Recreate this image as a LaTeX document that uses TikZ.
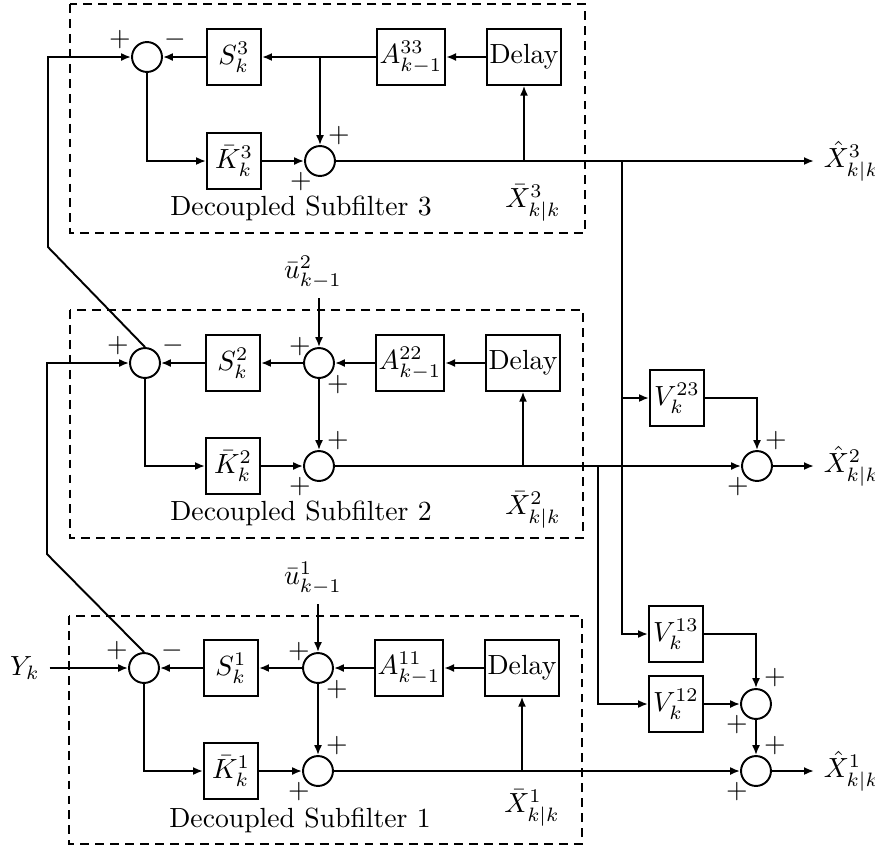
\documentclass[tikz,border=0pt]{standalone}
\usetikzlibrary{arrows.meta}
\tikzset{
  blk/.style={draw, line width=0.7pt, minimum width=19.5pt, minimum height=20pt, inner sep=1pt},
  sumc/.style={draw, circle, line width=0.7pt, minimum size=10.8pt, inner sep=0pt},
  sig/.style={line width=0.7pt, -{Latex[length=3.6pt,width=2.9pt]}},
  wire/.style={line width=0.7pt},
  frame/.style={line width=0.7pt, dash pattern=on 3.2pt off 2.2pt},
  sgn/.style={inner sep=0pt}
}
\begin{document}
\begin{tikzpicture}[x=0.361pt,y=-0.361pt]
\useasboundingbox (0,0) rectangle (875,848);
% subfilter 3
\draw[frame] (70,4) rectangle (585,233);
\node[sumc] (l3) at (147,57) {};
\node[blk] (s3) at (234,57) {$S^3_k$};
\node[blk] (a3) at (411,57) {$A^{33}_{k-1}$};
\node[blk] (d3) at (524,57) {Delay};
\node[blk] (k3) at (234,161) {$\bar{K}^3_k$};
\node[sumc] (b3) at (320,161) {};
\node (xb3) at (533,203) {$\bar{X}^3_{k|k}$};
\node (n3) at (301,208) {Decoupled Subfilter 3};
\node[anchor=west] (x3) at (814,161) {$\hat{X}^3_{k|k}$};
\coordinate (t3) at (622,161);
\draw[sig] (d3) -- (a3);
\draw[sig] (a3) -- (s3);
\draw[sig] (s3) -- (l3);
\draw[sig] (b3 |- a3) -- (b3);
\draw[sig] (l3) |- (k3);
\draw[sig] (k3) -- (b3);
\draw[sig] (b3) -- (x3);
\draw[sig] (d3 |- b3) -- (d3);
\node[sgn] (l3a) at ([shift={(-27,-17)}]l3) {$+$};
\node[sgn] (l3b) at ([shift={(28,-17)}]l3) {$-$};
\node[sgn] (b3a) at ([shift={(19,-25)}]b3) {$+$};
\node[sgn] (b3b) at ([shift={(-19,21)}]b3) {$+$};
% subfilter 2
\draw[frame] (70,310) rectangle (583,538);
\node (u2) at (313,272) {$\bar{u}^2_{k-1}$};
\node[sumc] (l2) at (145,363) {};
\node[blk] (s2) at (233,363) {$S^2_k$};
\node[sumc] (m2) at (319,363) {};
\node[blk] (a2) at (410,363) {$A^{22}_{k-1}$};
\node[blk] (d2) at (523,363) {Delay};
\node[blk] (k2) at (233,466) {$\bar{K}^2_k$};
\node[sumc] (b2) at (319,466) {};
\node (xb2) at (533,510) {$\bar{X}^2_{k|k}$};
\node (n2) at (301,513) {Decoupled Subfilter 2};
\coordinate (t2) at (598,466);
\draw[sig] (u2.south -| m2) -- (m2);
\draw[sig] (d2) -- (a2);
\draw[sig] (a2) -- (m2);
\draw[sig] (m2) -- (s2);
\draw[sig] (s2) -- (l2);
\draw[sig] (m2) -- (b2);
\draw[sig] (l2) |- (k2);
\draw[sig] (k2) -- (b2);
\draw[sig] (d2 |- b2) -- (d2);
\draw[sig] (l2.north) -- ++(-97,-100) |- (l3);
\node[sgn] (l2a) at ([shift={(-27,-17)}]l2) {$+$};
\node[sgn] (l2b) at ([shift={(28,-17)}]l2) {$-$};
\node[sgn] (m2a) at ([shift={(-19,-16)}]m2) {$+$};
\node[sgn] (m2b) at ([shift={(19,22)}]m2) {$+$};
\node[sgn] (b2a) at ([shift={(19,-25)}]b2) {$+$};
\node[sgn] (b2b) at ([shift={(-19,21)}]b2) {$+$};
% subfilter 1
\draw[frame] (69,616) rectangle (582,844);
\node (u1) at (313,578) {$\bar{u}^1_{k-1}$};
\node (yk) at (25,668) {$Y_k$};
\node[sumc] (l1) at (144,668) {};
\node[blk] (s1) at (231,668) {$S^1_k$};
\node[sumc] (m1) at (318,668) {};
\node[blk] (a1) at (409,668) {$A^{11}_{k-1}$};
\node[blk] (d1) at (522,668) {Delay};
\node[blk] (k1) at (231,771) {$\bar{K}^1_k$};
\node[sumc] (b1) at (318,771) {};
\node (xb1) at (532,808) {$\bar{X}^1_{k|k}$};
\node (n1) at (300,820) {Decoupled Subfilter 1};
\draw[sig] (yk) -- (l1);
\draw[sig] (u1.south -| m1) -- (m1);
\draw[sig] (d1) -- (a1);
\draw[sig] (a1) -- (m1);
\draw[sig] (m1) -- (s1);
\draw[sig] (s1) -- (l1);
\draw[sig] (m1) -- (b1);
\draw[sig] (l1) |- (k1);
\draw[sig] (k1) -- (b1);
\draw[sig] (d1 |- b1) -- (d1);
\draw[sig] (l1.north) -- ++(-97,-98) |- (l2);
\node[sgn] (l1a) at ([shift={(-27,-17)}]l1) {$+$};
\node[sgn] (l1b) at ([shift={(28,-17)}]l1) {$-$};
\node[sgn] (m1a) at ([shift={(-19,-16)}]m1) {$+$};
\node[sgn] (m1b) at ([shift={(19,22)}]m1) {$+$};
\node[sgn] (b1a) at ([shift={(19,-25)}]b1) {$+$};
\node[sgn] (b1b) at ([shift={(-19,21)}]b1) {$+$};
% coupling
\node[blk] (v23) at (677,398) {$V^{23}_k$};
\node[blk] (v13) at (676,634) {$V^{13}_k$};
\node[blk] (v12) at (676,704) {$V^{12}_k$};
\node[sumc] (p2) at (757,466) {};
\node[sumc] (q1) at (756,704) {};
\node[sumc] (p1) at (756,771) {};
\node[anchor=west] (x2) at (814,466) {$\hat{X}^2_{k|k}$};
\node[anchor=west] (x1) at (814,771) {$\hat{X}^1_{k|k}$};
\draw[sig] (t3) |- (v13);
\draw[sig] (t3 |- v23) -- (v23);
\draw[sig] (v23) -| (p2);
\draw[sig] (b2) -- (p2);
\draw[sig] (p2) -- (x2);
\draw[sig] (t2) |- (v12);
\draw[sig] (v13) -| (q1);
\draw[sig] (v12) -- (q1);
\draw[sig] (q1) -- (p1);
\draw[sig] (b1) -- (p1);
\draw[sig] (p1) -- (x1);
\node[sgn] (p2a) at ([shift={(19,-25)}]p2) {$+$};
\node[sgn] (p2b) at ([shift={(-19,21)}]p2) {$+$};
\node[sgn] (q1a) at ([shift={(19,-26)}]q1) {$+$};
\node[sgn] (q1b) at ([shift={(-19,21)}]q1) {$+$};
\node[sgn] (p1a) at ([shift={(19,-25)}]p1) {$+$};
\node[sgn] (p1b) at ([shift={(-19,21)}]p1) {$+$};
\end{tikzpicture}
\end{document}
